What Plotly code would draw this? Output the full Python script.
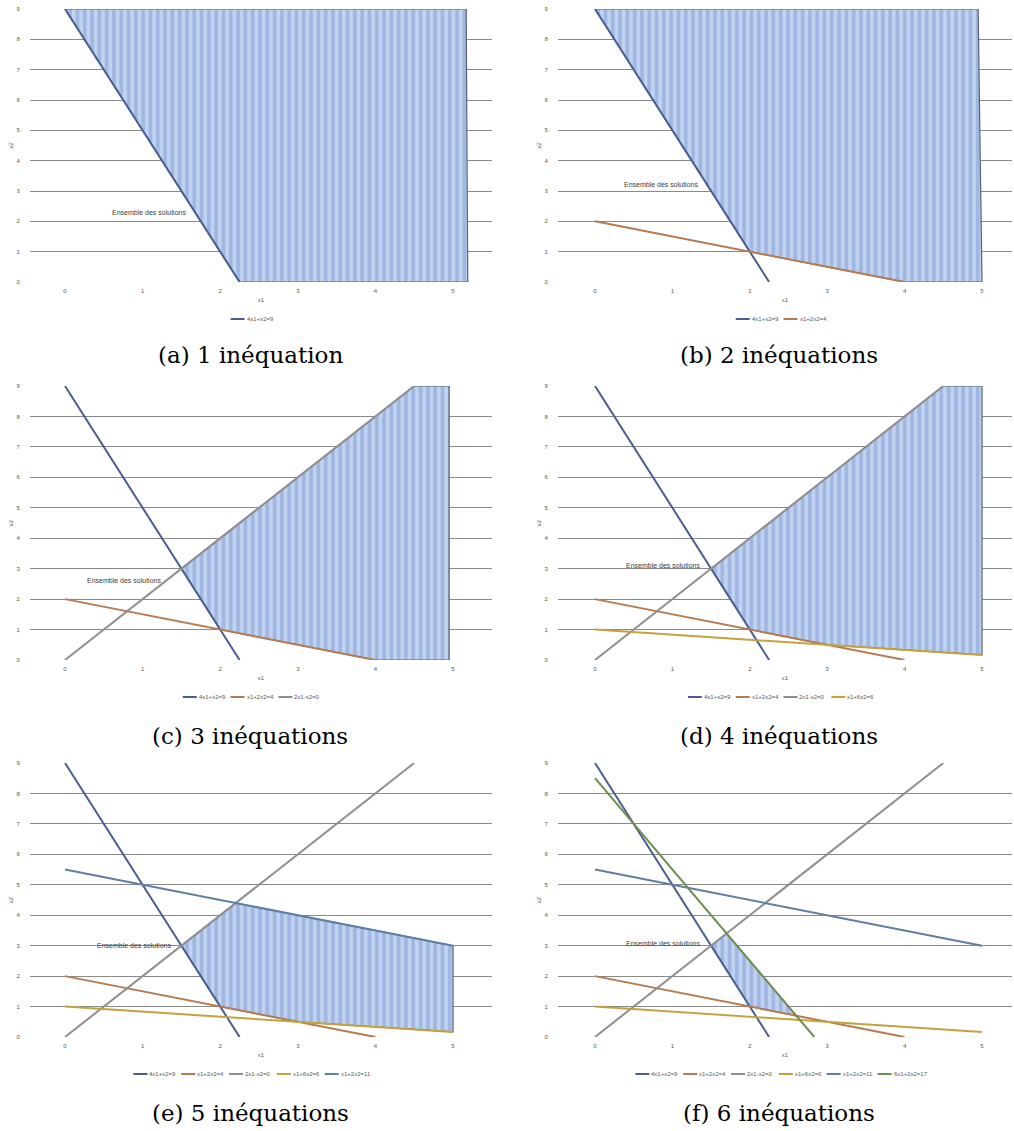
import plotly.graph_objects as go

# inequalities: a*x1 + b*x2 = c
eq_labels = ["4x1+x2=9", "x1+2x2=4", "2x1-x2=0", "x1+6x2=6", "x1+2x2=11", "6x1+2x2=17"]
eq_a = [4, 1, 2, 1, 1, 6]
eq_b = [1, 2, -1, 6, 2, 2]
eq_c = [9, 4, 0, 6, 11, 17]
eq_x_end = [2.25, 4, 4.5, 5, 5, 17 / 6]
eq_colors = ["#4a5f8f", "#b77b52", "#8f8f8f", "#c4a23c", "#5f7fa6", "#6f8f52"]

# feasible region vertices for each panel
reg_x = [
    [0, 2.25, 5.19, 5.17],
    [0, 2, 4, 5, 4.95],
    [1.5, 2, 4, 4.95, 4.95, 4.5],
    [1.5, 2, 3, 5, 5, 4.5],
    [1.5, 2, 3, 5, 5, 2.2],
    [1.5, 2, 2.6, 1.7],
]
reg_y = [
    [9, 0, 0, 9],
    [9, 1, 0, 0, 9],
    [3, 1, 0, 0, 9, 9],
    [3, 1, 0.5, 1 / 6, 9, 9],
    [3, 1, 0.5, 1 / 6, 3, 4.4],
    [3, 1, 0.7, 3.4],
]
sol_x = [1.08, 0.85, 0.76, 0.88, 0.89, 0.88]
sol_y = [2.3, 3.2, 2.6, 3.09, 3.0, 3.06]
captions = ["(a) 1 inéquation", "(b) 2 inéquations", "(c) 3 inéquations",
            "(d) 4 inéquations", "(e) 5 inéquations", "(f) 6 inéquations"]
x_ticks = [0, 1, 2, 3, 4, 5]
y_ticks = [0, 1, 2, 3, 4, 5, 6, 7, 8, 9]

W, H = 1014, 1131
col_px = [(30, 492, 65, 453), (558, 1012, 595, 982)]   # domain left/right, pixel of x=0 and x=5
row_px = [(9, 282), (386, 660), (763, 1037)]           # pixel of y=9, y=0
row_caption = [355, 736, 1113]
col_center = [250, 779]

fig = go.Figure()
annotations = []
shapes = []

for i in range(6):
    r, c = divmod(i, 2)
    n = i + 1
    xa = "x" if n == 1 else f"x{n}"
    ya = "y" if n == 1 else f"y{n}"
    d0, d1, p0, p5 = col_px[c]
    top, bot = row_px[r]
    scale = (p5 - p0) / 5
    xr = [(d0 - p0) / scale, (d1 - p0) / scale]

    fig.add_trace(go.Scatter(
        x=reg_x[i] + [reg_x[i][0]], y=reg_y[i] + [reg_y[i][0]],
        mode="lines", fill="toself", fillcolor="#c0d2f0",
        fillpattern=dict(shape="|", size=7.3, solidity=0.5, fgcolor="#7f9cd4", bgcolor="#c0d2f0"),
        line=dict(color="#55617a", width=1.2), xaxis=xa, yaxis=ya,
        showlegend=False, hoverinfo="skip"))

    for k in range(n):
        xs = [0, eq_x_end[k]]
        ys = [(eq_c[k] - eq_a[k] * x) / eq_b[k] for x in xs]
        fig.add_trace(go.Scatter(x=xs, y=ys, mode="lines", name=eq_labels[k],
                                 line=dict(color=eq_colors[k], width=2),
                                 xaxis=xa, yaxis=ya, showlegend=False))

    axis_font = dict(family="Liberation Sans", size=6, color="#595959")
    fig.update_layout(**{
        ("xaxis" if n == 1 else f"xaxis{n}"): dict(
            domain=[d0 / W, d1 / W], range=xr, anchor=ya, tickvals=x_ticks, automargin=False,
            showgrid=False, zeroline=False, showline=False, tickfont=axis_font,
            ticks="outside", ticklen=3, tickcolor="rgba(0,0,0,0)",
            title=dict(text="x1", font=axis_font, standoff=4)),
        ("yaxis" if n == 1 else f"yaxis{n}"): dict(
            domain=[1 - bot / H, 1 - top / H], range=[0, 9], anchor=xa, tickvals=y_ticks,
            automargin=False,
            showgrid=True, gridcolor="#8a8a8a", gridwidth=1, zeroline=False, showline=False,
            tickfont=axis_font, ticks="outside", ticklen=8, tickcolor="rgba(0,0,0,0)",
            title=dict(text="x2", font=axis_font, standoff=2)),
    })

    annotations.append(dict(x=sol_x[i], y=sol_y[i], xref=xa, yref=ya, text="Ensemble des solutions",
                            showarrow=False, font=dict(family="Liberation Sans", size=7, color="#404040")))

    # legend drawn below each chart
    char_w, seg, gap = 3.1, 14, 9
    total = sum(seg + len(eq_labels[k]) * char_w + gap for k in range(n)) - gap
    xpos = col_center[c] - total / 2
    ly = bot + 37
    for k in range(n):
        shapes.append(dict(type="line", xref="paper", yref="paper",
                           x0=xpos / W, x1=(xpos + seg) / W, y0=1 - ly / H, y1=1 - ly / H,
                           line=dict(color=eq_colors[k], width=2)))
        annotations.append(dict(x=(xpos + seg) / W, y=1 - ly / H, xref="paper", yref="paper",
                                xanchor="left", yanchor="middle", text=eq_labels[k], showarrow=False,
                                font=dict(family="Liberation Sans", size=6, color="#595959")))
        xpos += seg + len(eq_labels[k]) * char_w + gap

    annotations.append(dict(x=col_center[c] / W, y=1 - row_caption[r] / H, xref="paper", yref="paper",
                            text=captions[i], showarrow=False, xanchor="center", yanchor="middle",
                            font=dict(family="DejaVu Serif", size=23, color="#000000")))

fig.update_layout(width=W, height=H, margin=dict(l=0, r=0, t=0, b=0),
                  plot_bgcolor="white", paper_bgcolor="white",
                  annotations=annotations, shapes=shapes, showlegend=False)
fig.write_html("out.html", config={"displayModeBar": False},
               post_script="document.body.style.margin='0px';")
